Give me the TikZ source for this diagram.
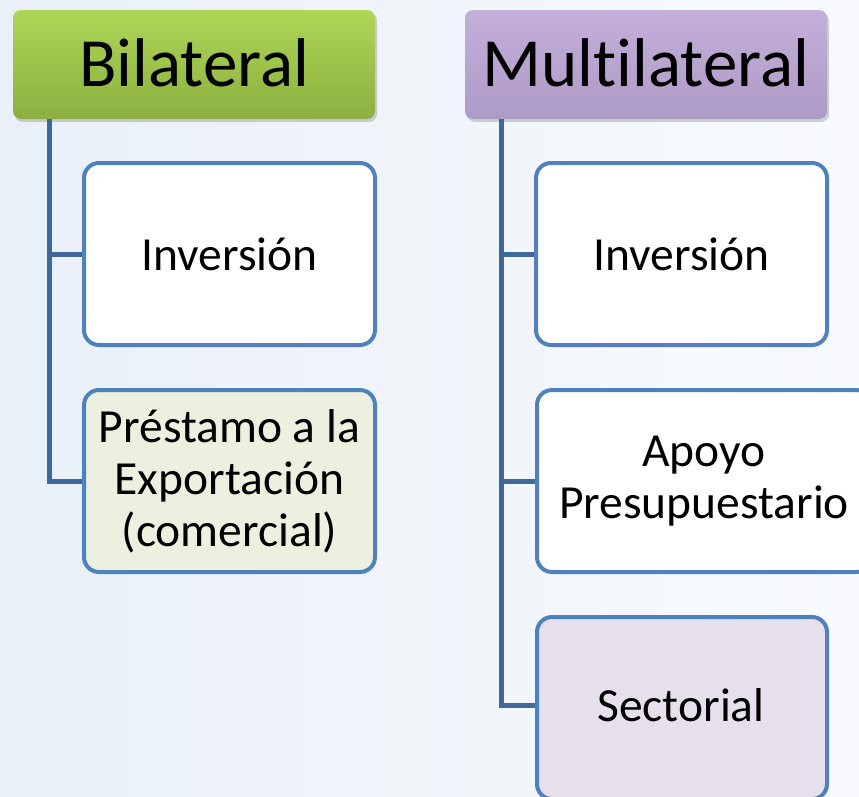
\documentclass[tikz,border=0pt]{standalone}
\usepackage{fontspec}
\setmainfont[Ligatures=NoCommon]{Carlito}
\usetikzlibrary{shadows}
\definecolor{bordblue}{HTML}{4F81BD}
\definecolor{trunkblue}{HTML}{41689B}
\definecolor{greentop}{HTML}{AED656}
\definecolor{greenbot}{HTML}{8BB040}
\definecolor{purptop}{HTML}{C3AFD9}
\definecolor{purpbot}{HTML}{AE9AC6}
\definecolor{greenfill}{HTML}{EBF1DE}
\definecolor{lavfill}{HTML}{E6E0EC}
\definecolor{bgleft}{HTML}{E9F0F8}
\definecolor{bgright}{HTML}{F8FAFD}
\begin{document}
\begin{tikzpicture}[x=1pt,y=-1pt,
  header/.style={rectangle, rounded corners=8pt, draw=none, inner sep=0pt,
    drop shadow={opacity=0.35, shadow xshift=2pt, shadow yshift=-3pt},
    font=\fontsize{69}{72}\selectfont},
  childbox/.style={rectangle, rounded corners=15pt, draw=bordblue, line width=4pt,
    fill=white, inner sep=0pt, align=center, font=\fontsize{47.5}{52}\selectfont},
  trunk/.style={draw=trunkblue, line width=5pt}]
\useasboundingbox (0,0) rectangle (859,796);
\shade[left color=bgleft, right color=bgright] (0,0) rectangle (859,796);
% headers
\node[header, top color=greentop, bottom color=greenbot,
  minimum width=362pt, minimum height=109pt] (bil) at (194,64.5) {\raisebox{3pt}{Bilateral}};
\node[header, top color=purptop, bottom color=purpbot,
  minimum width=362pt, minimum height=109pt] (mul) at (646,64.5) {\raisebox{3pt}{Multilateral}};
% coordinates for trunks
\coordinate (lt) at (49,0);
\coordinate (rt) at (501,0);
% children left
\node[childbox, minimum width=291pt, minimum height=182pt] (inv1) at (229.5,254) {Inversión};
\node[childbox, fill=greenfill, minimum width=291pt, minimum height=182pt] (pres) at (229.5,481) {Préstamo a la\\Exportación\\(comercial)};
% children right
\node[childbox, minimum width=291pt, minimum height=182pt] (inv2) at (681.5,254) {Inversión};
\node[childbox, minimum width=334pt, minimum height=182pt] (apo) at (704,481) {Apoyo\\Presupuestario};
\node[childbox, fill=lavfill, minimum width=290pt, minimum height=182pt] (sec) at (682,708) {};
\node[font=\fontsize{47.5}{52}\selectfont] (sect) at (681,705) {Sectorial};
% connectors
\draw[trunk] (bil.south -| lt) |- (inv1.west);
\draw[trunk] (bil.south -| lt) |- (pres.west);
\draw[trunk] (mul.south -| rt) |- (inv2.west);
\draw[trunk] (mul.south -| rt) |- (apo.west);
\draw[trunk] (mul.south -| rt) |- (sec.west |- sect);
\end{tikzpicture}
\end{document}
